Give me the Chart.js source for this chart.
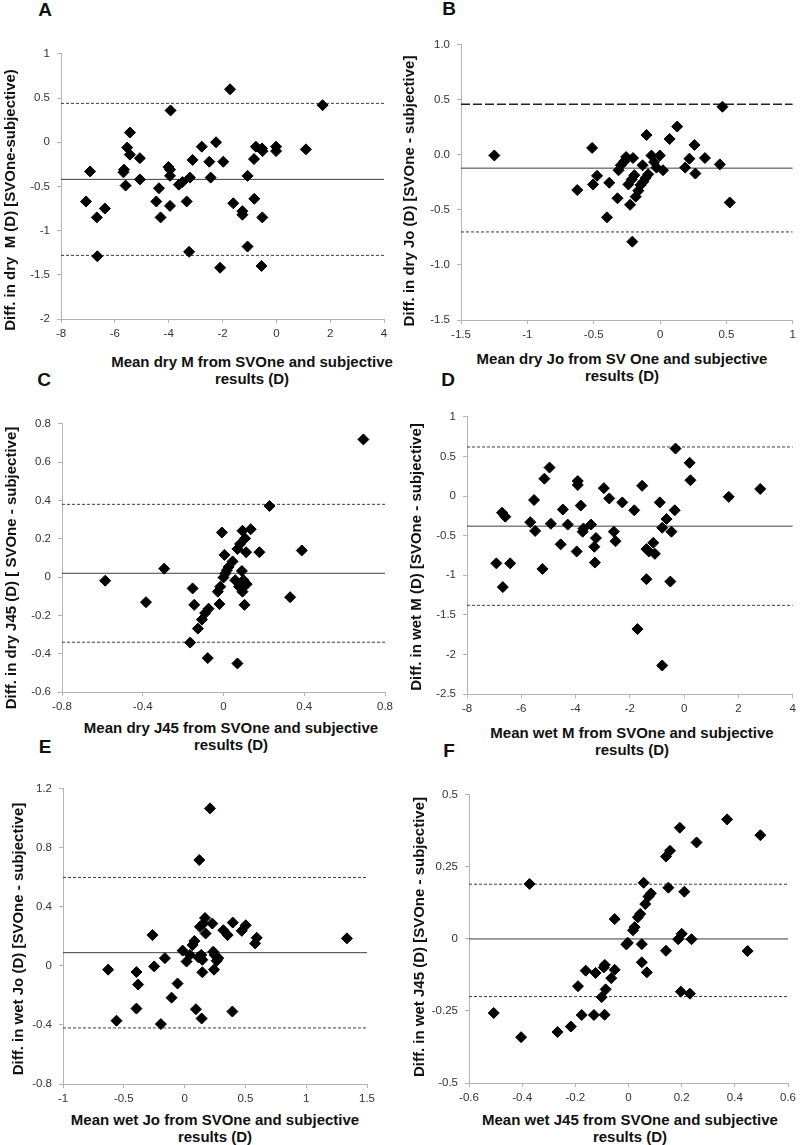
<!DOCTYPE html>
<html lang="en">
<head>
<meta charset="UTF-8">
<title>SVOne vs subjective refraction</title>
<script src="https://cdn.jsdelivr.net/npm/chart.js"></script>
<style>
  body { margin: 0; background: #fff; font-family: 'Liberation Sans', Arial, sans-serif; color: #111; }
  #page { position: relative; width: 800px; height: 1145px; overflow: hidden; }
  canvas { position: absolute; }
  .tag { position: absolute; font-weight: bold; font-size: 19px; transform: translate(-50%, -50%); }
  .xt { position: absolute; font-weight: bold; font-size: 15px; line-height: 17px; text-align: center; white-space: pre; transform: translateX(-50%); }
  .yt { position: absolute; font-weight: bold; font-size: 15px; line-height: 17px; white-space: pre; transform: translate(-50%, -50%) rotate(-90deg); }
</style>
</head>
<body>
<div id="page">
  <canvas id="chartA"></canvas>
  <canvas id="chartB"></canvas>
  <canvas id="chartC"></canvas>
  <canvas id="chartD"></canvas>
  <canvas id="chartE"></canvas>
  <canvas id="chartF"></canvas>

  <!-- panel letters -->
  <div class="tag" style="left:45px;top:10px">A</div>
  <div class="tag" style="left:449px;top:9px">B</div>
  <div class="tag" style="left:44px;top:380px">C</div>
  <div class="tag" style="left:448px;top:380px">D</div>
  <div class="tag" style="left:45px;top:747px">E</div>
  <div class="tag" style="left:449px;top:751px">F</div>

  <!-- axis titles -->
  <div class="yt" style="left:9px;top:200px">Diff. in dry  M (D) [SVOne-subjective)</div>
  <div class="xt" style="left:252px;top:353px">Mean dry M from SVOne and subjective
results (D)</div>

  <div class="yt" style="left:408px;top:191px">Diff. in dry Jo (D) [SVOne - subjective]</div>
  <div class="xt" style="left:622px;top:350px">Mean dry Jo from SV One and subjective
results (D)</div>

  <div class="yt" style="left:10px;top:568px">Diff. in dry J45 (D) [ SVOne - subjective]</div>
  <div class="xt" style="left:231px;top:719px">Mean dry J45 from SVOne and subjective
results (D)</div>

  <div class="yt" style="left:415px;top:557px">Diff. in wet M (D) [SVOne - subjective]</div>
  <div class="xt" style="left:632px;top:724px">Mean wet M from SVOne and subjective
results (D)</div>

  <div class="yt" style="left:17px;top:939px">Diff. in wet Jo (D) [SVOne - subjective]</div>
  <div class="xt" style="left:215px;top:1111px">Mean wet Jo from SVOne and subjective
results (D)</div>

  <div class="yt" style="left:418px;top:937px">Diff. in wet J45 (D) [SVOne - subjective]</div>
  <div class="xt" style="left:630px;top:1111px">Mean wet J45 from SVOne and subjective
results (D)</div>
</div>

<script>
  // A: dry M
  const xA = [-7.07,-6.92,-6.67,-6.65,-6.37,-5.68,-5.66,-5.60,-5.54,-5.44,-5.44,-5.07,-5.07,-4.36,-4.46,-4.30,-4.01,-3.95,-3.95,-3.95,-3.93,-3.62,-3.49,-3.33,-3.21,-3.24,-3.11,-2.77,-2.49,-2.44,-2.24,-2.09,-1.97,-1.72,-1.60,-1.26,-1.26,-1.07,-1.07,-0.83,-0.82,-0.76,-0.53,-0.51,-0.52,-0.55,-0.01,-0.01,1.10,1.72];
  const yA = [-0.67,-0.33,-0.85,-1.29,-0.75,-0.34,-0.31,-0.49,-0.06,0.11,-0.14,-0.18,-0.42,-0.52,-0.67,-0.85,-0.28,-0.31,-0.38,-0.72,0.36,-0.48,-0.45,-0.67,-0.40,-1.24,-0.20,-0.05,-0.22,-0.40,0.00,-1.42,-0.22,0.60,-0.69,-0.78,-0.82,-0.38,-1.18,-0.19,-0.64,-0.05,-0.07,-0.10,-0.85,-1.40,-0.05,-0.10,-0.08,0.42];
  const limitsA = [-0.42, 0.44, -1.28]; // mean, upper, lower
  const xTicksA = [-8,-6,-4,-2,0,2,4];
  const xLabelsA = ['-8','-6','-4','-2','0','2','4'];
  const yTicksA = [-2,-1.5,-1,-0.5,0,0.5,1];
  const yLabelsA = ['-2','-1.5','-1','-0.5','0','0.5','1'];

  // B: dry Jo
  const xB = [-1.249,-0.624,-0.512,-0.505,-0.475,-0.383,-0.400,-0.321,-0.313,-0.296,-0.269,-0.256,-0.239,-0.226,-0.214,-0.209,-0.204,-0.194,-0.184,-0.164,-0.147,-0.132,-0.127,-0.109,-0.102,-0.090,-0.065,-0.045,-0.027,-0.002,0.022,0.072,0.129,0.189,0.221,0.259,0.266,0.338,0.450,0.470,0.525];
  const yB = [-0.005,-0.319,0.064,-0.268,-0.190,-0.253,-0.567,-0.394,-0.139,-0.094,-0.058,-0.019,-0.268,-0.453,-0.223,-0.788,-0.028,-0.184,-0.379,-0.325,-0.274,-0.094,-0.244,-0.208,0.181,-0.175,-0.005,-0.065,-0.115,-0.005,-0.139,0.145,0.258,-0.115,-0.034,0.091,-0.169,-0.028,-0.086,0.438,-0.432];
  const limitsB = [-0.12, 0.46, -0.70];
  const xTicksB = [-1.5,-1,-0.5,0,0.5,1];
  const xLabelsB = ['-1.5','-1','-0.5','0','0.5','1'];
  const yTicksB = [-1.5,-1,-0.5,0,0.5,1];
  const yLabelsB = ['-1.5','-1.0','-0.5','0.0','0.5','1.0'];

  // C: dry J45
  const xC = [-0.586,-0.384,-0.294,-0.153,-0.145,-0.165,-0.127,-0.107,-0.091,-0.074,-0.078,-0.020,-0.028,-0.016,-0.008,0.005,0.008,0.017,0.025,0.000,0.045,0.058,0.069,0.069,0.079,0.082,0.091,0.094,0.094,0.099,0.107,0.112,0.115,0.104,0.135,0.178,0.228,0.330,0.388,0.693,0.077];
  const yC = [-0.019,-0.131,0.044,-0.059,-0.145,-0.342,-0.269,-0.222,-0.188,-0.165,-0.423,-0.141,-0.076,-0.050,0.233,0.116,0.018,0.036,0.053,-0.002,0.082,-0.016,-0.451,0.147,-0.033,0.173,0.032,0.242,-0.076,-0.016,0.202,0.130,-0.037,-0.145,0.250,0.130,0.371,-0.105,0.139,0.719,-0.050];
  const limitsC = [0.02, 0.38, -0.34];
  const xTicksC = [-0.8,-0.4,0,0.4,0.8];
  const xLabelsC = ['-0.8','-0.4','0','0.4','0.8'];
  const yTicksC = [-0.6,-0.4,-0.2,0,0.2,0.4,0.6,0.8];
  const yLabelsC = ['-0.6','-0.4','-0.2','0','0.2','0.4','0.6','0.8'];

  // D: wet M
  const xD = [-6.92,-6.71,-6.59,-6.68,-6.41,-5.67,-5.53,-5.49,-5.22,-5.15,-4.96,-4.91,-4.55,-4.47,-4.29,-3.96,-3.92,-3.92,-3.81,-3.74,-3.71,-3.43,-3.31,-3.25,-3.29,-2.96,-2.76,-2.59,-2.53,-2.28,-1.84,-1.72,-1.55,-1.39,-1.39,-1.30,-1.14,-1.08,-0.90,-0.81,-0.81,-0.65,-0.51,-0.47,-0.35,-0.32,0.20,0.23,1.64,2.80];
  const yD = [-0.85,-0.21,-0.26,-1.15,-0.85,-0.33,-0.05,-0.44,-0.92,0.22,0.36,-0.35,-0.61,-0.17,-0.36,-0.70,0.19,0.14,-0.12,-0.45,-0.41,-0.36,-0.64,-0.53,-0.84,0.10,-0.03,-0.45,-0.57,-0.08,-0.18,-1.68,0.13,-0.67,-1.05,-0.70,-0.59,-0.73,-0.08,-0.40,-2.14,-0.29,-1.08,-0.45,-0.18,0.60,0.42,0.20,-0.01,0.09];
  const limitsD = [-0.38, 0.62, -1.38];
  const xTicksD = [-8,-6,-4,-2,0,2,4];
  const xLabelsD = ['-8','-6','-4','-2','0','2','4'];
  const yTicksD = [-2.5,-2,-1.5,-1,-0.5,0,0.5,1];
  const yLabelsD = ['-2.5','-2','-1.5','-1','-0.5','0','0.5','1'];

  // E: wet Jo
  const xE = [-0.629,-0.560,-0.396,-0.382,-0.396,-0.264,-0.250,-0.195,-0.162,-0.107,-0.058,-0.016,0.016,0.044,0.066,0.080,0.093,0.113,0.121,0.126,0.137,0.140,0.146,0.146,0.154,0.168,0.173,0.209,0.228,0.236,0.242,0.247,0.264,0.277,0.319,0.354,0.393,0.396,0.470,0.503,0.580,0.593,1.335];
  const yE = [-0.025,-0.371,-0.041,-0.126,-0.289,0.209,-0.003,-0.394,0.053,-0.215,-0.119,0.104,0.030,0.075,0.142,0.169,-0.293,0.059,0.718,0.265,0.075,-0.356,0.042,-0.043,0.287,0.325,0.220,1.068,0.287,0.097,-0.025,0.075,0.035,0.053,0.242,0.209,-0.309,0.294,0.238,0.276,0.153,0.191,0.187];
  const limitsE = [0.09, 0.60, -0.42];
  const xTicksE = [-1,-0.5,0,0.5,1,1.5];
  const xLabelsE = ['-1','-0.5','0','0.5','1','1.5'];
  const yTicksE = [-0.8,-0.4,0,0.4,0.8,1.2];
  const yLabelsE = ['-0.8','-0.4','0','0.4','0.8','1.2'];

  // F: wet J45
  const xF = [-0.507,-0.404,-0.372,-0.267,-0.217,-0.190,-0.176,-0.161,-0.124,-0.130,-0.101,-0.093,-0.089,-0.086,-0.090,-0.065,-0.052,-0.052,-0.008,-0.003,0.017,0.023,0.035,0.044,0.050,0.050,0.057,0.063,0.069,0.075,0.084,0.141,0.156,0.141,0.150,0.187,0.193,0.200,0.197,0.210,0.237,0.231,0.256,0.371,0.448,0.496];
  const yF = [-0.257,-0.341,0.191,-0.323,-0.304,-0.164,-0.264,-0.110,-0.118,-0.264,-0.202,-0.099,-0.090,-0.175,-0.263,-0.136,0.069,-0.107,-0.019,-0.013,0.030,0.041,0.075,0.087,-0.018,-0.081,0.195,0.121,-0.116,0.147,0.158,0.286,0.306,-0.041,0.178,-0.001,0.386,0.018,-0.183,0.164,-0.001,-0.190,0.335,0.415,-0.042,0.360];
  const limitsF = [0.00, 0.19, -0.20];
  const xTicksF = [-0.6,-0.4,-0.2,0,0.2,0.4,0.6];
  const xLabelsF = ['-0.6','-0.4','-0.2','0','0.2','0.4','0.6'];
  const yTicksF = [-0.5,-0.25,0,0.25,0.5];
  const yLabelsF = ['-0.5','-0.25','0','0.25','0.5'];

  const AXIS = '#b3b3b3';
  const LINE = '#3c3c3c';
  const YW = 50, XH = 25, PT = 10;

  // plot area in page pixels: [left, top, right, bottom]
  function bland(id, box, xs, ys, limits, xTicks, xLabels, yTicks, yLabels, upperDash) {
    const [L, T, R, B] = box;
    const padR = Math.min(12, 800 - R);
    const cv = document.getElementById(id);
    cv.width = R - L + YW + padR;
    cv.height = B - T + PT + XH;
    cv.style.left = (L - YW) + 'px';
    cv.style.top = (T - PT) + 'px';

    const xMin = xTicks[0], xMax = xTicks[xTicks.length - 1];
    const hline = (y, dash, w, color) => ({
      data: [{ x: xMin, y }, { x: xMax, y }],
      showLine: true, pointRadius: 0, borderColor: color, borderWidth: w, borderDash: dash
    });

    return new Chart(cv, {
      type: 'scatter',
      data: {
        datasets: [
          {
            data: xs.map((x, i) => ({ x, y: ys[i] })),
            pointStyle: 'rectRot', pointRadius: 5.5,
            backgroundColor: '#000', borderColor: '#000', borderWidth: 1
          },
          hline(limits[0], [], 1, LINE),
          upperDash ? hline(limits[1], [9, 3], 1.5, '#222') : hline(limits[1], [3, 2], 1, LINE),
          hline(limits[2], [3, 2], 1, LINE)
        ]
      },
      options: {
        responsive: false,
        devicePixelRatio: 1,
        animation: false,
        layout: { padding: { top: PT, right: padR, left: 0, bottom: 0 } },
        plugins: { legend: { display: false }, tooltip: { enabled: false } },
        scales: {
          x: {
            min: xMin, max: xMax,
            afterBuildTicks: s => { s.ticks = xTicks.map(v => ({ value: v })); },
            afterFit: s => { s.height = XH; },
            ticks: {
              callback: (v, i) => xLabels[i],
              color: '#333', padding: 4, maxRotation: 0, autoSkip: false,
              font: { family: "'Liberation Sans', Arial, sans-serif", size: 11.5 }
            },
            grid: { drawOnChartArea: false, drawTicks: true, tickLength: 4, color: AXIS },
            border: { color: AXIS, width: 1 }
          },
          y: {
            min: yTicks[0], max: yTicks[yTicks.length - 1],
            afterBuildTicks: s => { s.ticks = yTicks.map(v => ({ value: v })); },
            afterFit: s => { s.width = YW; },
            ticks: {
              callback: (v, i) => yLabels[i],
              color: '#333', padding: 7, autoSkip: false,
              font: { family: "'Liberation Sans', Arial, sans-serif", size: 11.5 }
            },
            grid: { drawOnChartArea: false, drawTicks: true, tickLength: 4, color: AXIS },
            border: { color: AXIS, width: 1 }
          }
        }
      }
    });
  }

  bland('chartA', [61, 50, 384, 319], xA, yA, limitsA, xTicksA, xLabelsA, yTicksA, yLabelsA, false);
  bland('chartB', [461, 41, 796, 320], xB, yB, limitsB, xTicksB, xLabelsB, yTicksB, yLabelsB, true);
  bland('chartC', [62, 420, 385, 692], xC, yC, limitsC, xTicksC, xLabelsC, yTicksC, yLabelsC, false);
  bland('chartD', [467, 413, 793, 694], xD, yD, limitsD, xTicksD, xLabelsD, yTicksD, yLabelsD, false);
  bland('chartE', [63, 785, 367, 1084], xE, yE, limitsE, xTicksE, xLabelsE, yTicksE, yLabelsE, false);
  bland('chartF', [469, 791, 791, 1083], xF, yF, limitsF, xTicksF, xLabelsF, yTicksF, yLabelsF, false);
</script>
</body>
</html>
